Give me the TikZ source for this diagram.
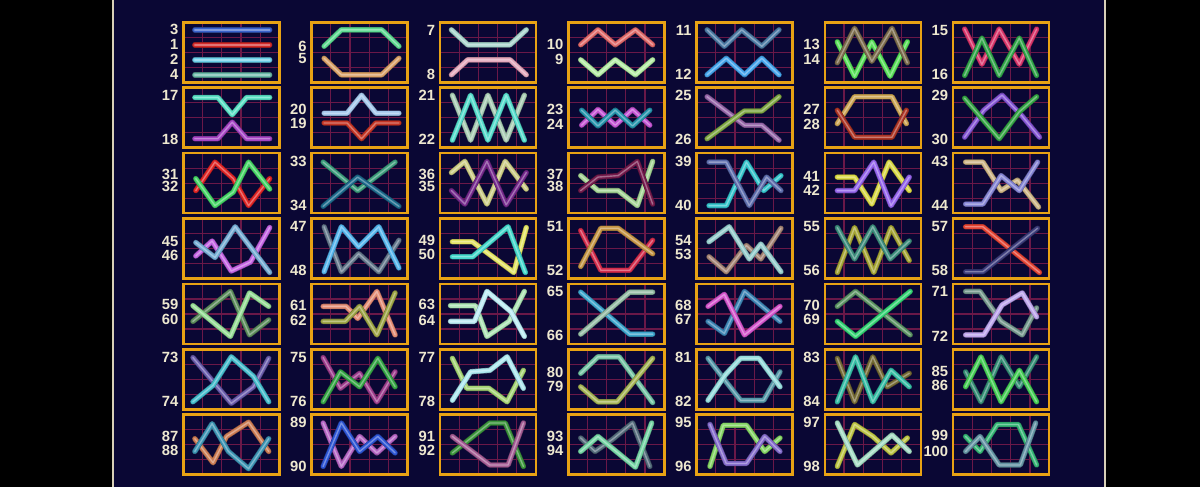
\documentclass[tikz,border=0pt]{standalone}
\usepackage{fontspec}
\newfontfamily\labfont{Liberation Sans}
\definecolor{navy}{HTML}{0A0734}
\definecolor{edgec}{HTML}{D8D0B8}
\definecolor{gridc}{HTML}{6A1848}
\definecolor{boxc}{HTML}{E8A214}
\definecolor{labc}{HTML}{EEE8D0}
\tikzset{
 tubeA/.style={line width=2.7pt,line cap=round,line join=round},
 tubeB/.style={line width=2.1pt,line cap=round,line join=round},
 tubeC/.style={line width=0.7pt,line cap=round,line join=round},
 gridline/.style={draw=gridc,line width=0.6pt},
 boxline/.style={draw=boxc,line width=1.3pt},
 lab/.style={anchor=east,inner sep=0pt,text=labc,font=\labfont\bfseries\fontsize{7.4}{8}\selectfont}
}
\newcommand\PL[2]{\definecolor{tc}{HTML}{#1}%
 \draw[tubeA,draw=tc!70!black] #2;
 \draw[tubeB,draw=tc] #2;
 \draw[tubeC,draw=tc!65!white] #2;}
\newcommand\Panel[3]{%
 \begin{scope}[shift={({183.3+128.3*#1},{22.3+65.4*#2})}]
  \foreach \k in {1,2,3,4} \draw[gridline] ({19.2*\k},0) -- ({19.2*\k},60);
  \foreach \k in {1,2,3} \draw[gridline] (0,{15*\k}) -- (96,{15*\k});
  \begin{scope}[shift={(-9.6,-7.5)},x=9.6pt,y=-7.5pt]
   #3
  \end{scope}
  \draw[boxline] (0,0) rectangle (96,60);
 \end{scope}}
\newcommand\Lab[4]{\node[lab] (L#4) at ({183.3+128.3*#1-4.5},{22.3+65.4*#2+#3}) {#4};}
\begin{document}
\begin{tikzpicture}[x=0.5pt,y=-0.5pt]
\useasboundingbox (0,0) rectangle (1200,487);
\fill[black] (0,0) rectangle (1200,487);
\fill[navy] (113,0) rectangle (1105,487);
\draw[edgec,line width=1.1pt] (113,0) -- (113,487);
\draw[edgec,line width=1.1pt] (1105,0) -- (1105,487);
% ---------- row 0
\Panel{0}{0}{
\PL{3A62CC}{(1.1,1)--(5,1)}
\PL{D42A2A}{(1.1,2)--(5,2)}
\PL{6CCFEA}{(1.1,3)--(5,3)}
\PL{6AB8A8}{(1.1,4)--(5,4)}}
\Lab{0}{0}{7}{3}\Lab{0}{0}{22}{1}\Lab{0}{0}{37}{2}\Lab{0}{0}{52}{4}
\Panel{1}{0}{
\PL{5CD890}{(1.15,2.1)--(2.05,1)--(4.15,1)--(5.05,2.1)}
\PL{D8A066}{(1.15,2.9)--(2.05,4)--(4.15,4)--(5.05,2.9)}}
\Lab{1}{0}{24}{6}\Lab{1}{0}{36}{5}
\Panel{2}{0}{
\PL{A8D4CC}{(1.1,1)--(1.95,2)--(4.15,2)--(5,1)}
\PL{E4A8BC}{(1.1,4)--(1.95,3)--(4.15,3)--(5,4)}}
\Lab{2}{0}{8}{7}\Lab{2}{0}{52}{8}
\Panel{3}{0}{
\PL{E06A6A}{(1.15,2)--(2.05,1)--(2.95,2)--(4,1)--(4.9,2)}
\PL{B4ECA4}{(1.15,3)--(2.05,4)--(2.95,3)--(4,4)--(4.9,3)}}
\Lab{3}{0}{22}{10}\Lab{3}{0}{37}{9}
\Panel{4}{0}{
\PL{4C7AA4}{(1.05,1)--(1.95,2.1)--(2.85,1)--(3.9,2.1)--(4.8,1)}
\PL{44A4EC}{(1.05,4)--(2.05,2.9)--(3,4)--(3.9,2.9)--(4.8,4)}}
\Lab{4}{0}{8}{11}\Lab{4}{0}{52}{12}
\Panel{5}{0}{
\PL{58E058}{(1.15,1.8)--(2.05,4.1)--(2.95,1.8)--(3.9,4.1)--(4.8,1.8)}
\PL{7C6C4C}{(1.15,3.2)--(2.05,0.9)--(2.95,3.1)--(4,0.9)--(4.8,3.2)}}
\Lab{5}{0}{22}{13}\Lab{5}{0}{37}{14}
\Panel{6}{0}{
\PL{D8346A}{(1.1,0.95)--(2,3.3)--(2.9,0.95)--(3.95,3.3)--(4.85,0.95)}
\PL{30A448}{(1.1,4.05)--(2,1.55)--(2.9,4.05)--(3.95,1.55)--(4.85,4.05)}}
\Lab{6}{0}{8}{15}\Lab{6}{0}{52}{16}
% ---------- row 1
\Panel{0}{1}{
\PL{58E0C4}{(1.1,1.15)--(2.3,1.15)--(3.05,2.3)--(3.8,1.15)--(5,1.15)}
\PL{A444C4}{(1.1,3.9)--(2.3,3.9)--(3.05,2.8)--(3.8,3.9)--(5,3.9)}}
\Lab{0}{1}{8}{17}\Lab{0}{1}{52}{18}
\Panel{1}{1}{
\PL{A4C8EC}{(1.15,2.2)--(2.35,2.2)--(3.1,1)--(3.85,2.2)--(5.05,2.2)}
\PL{C43424}{(1.15,2.85)--(2.35,2.85)--(3.1,3.9)--(3.85,2.85)--(5.05,2.85)}}
\Lab{1}{1}{22}{20}\Lab{1}{1}{36}{19}
\Panel{2}{1}{
\PL{A8CCB4}{(1.15,1)--(2.1,4)--(3,1)--(3.95,4)--(4.9,1)}
\PL{54DCCC}{(1.15,4)--(2.1,1)--(3,4)--(3.95,1)--(4.9,4)}}
\Lab{2}{1}{8}{21}\Lab{2}{1}{52}{22}
\Panel{3}{1}{
\PL{C454D4}{(1.2,3)--(2.05,1.95)--(2.95,3)--(3.85,1.95)--(4.75,3)}
\PL{2494AC}{(1.2,2)--(2.05,3.05)--(2.95,2)--(3.85,3.05)--(4.75,2)}}
\Lab{3}{1}{22}{23}\Lab{3}{1}{37}{24}
\Panel{4}{1}{
\PL{9464A8}{(1.05,1.1)--(3,3)--(3.9,3)--(4.8,4)}
\PL{80A844}{(1.05,3.9)--(3,2.05)--(3.9,2.05)--(4.8,1.1)}}
\Lab{4}{1}{8}{25}\Lab{4}{1}{52}{26}
\Panel{5}{1}{
\PL{CCA454}{(1.15,2.9)--(2.05,1.1)--(4,1.1)--(4.75,2.9)}
\PL{AC3424}{(1.15,2)--(2.05,3.8)--(4,3.8)--(4.75,2)}}
\Lab{5}{1}{22}{27}\Lab{5}{1}{37}{28}
\Panel{6}{1}{
\PL{8454D4}{(1.1,3.8)--(2.1,2)--(3.05,1)--(4.1,2.4)--(5,3.8)}
\PL{34A444}{(1.1,1.2)--(2.9,3.9)--(3.95,2.1)--(4.85,1.1)}}
\Lab{6}{1}{8}{29}\Lab{6}{1}{52}{30}
% ---------- row 2
\Panel{0}{2}{
\PL{E02424}{(1.15,3)--(2.15,1.1)--(3.1,2.2)--(3.9,4)--(5,2.2)}
\PL{44D464}{(1.15,2.2)--(2.15,4)--(3.1,3.1)--(3.9,1.1)--(5,2.9)}}
\Lab{0}{2}{21}{31}\Lab{0}{2}{33}{32}
\Panel{1}{2}{
\PL{3C9C7C}{(1.1,1.1)--(2.9,3)--(4.85,1.1)}
\PL{1C6A8C}{(1.1,4.05)--(2.9,2.1)--(5.05,4.05)}}
\Lab{1}{2}{8}{33}\Lab{1}{2}{52}{34}
\Panel{2}{2}{
\PL{CCCC84}{(1.1,1.8)--(1.8,1.05)--(2.95,3.9)--(3.9,1.05)--(5,2.9)}
\PL{74288C}{(1.1,3)--(1.8,3.9)--(2.95,1.05)--(3.95,3.95)--(5,1.8)}}
\Lab{2}{2}{21}{36}\Lab{2}{2}{33}{35}
\Panel{3}{2}{
\PL{A4D494}{(1.15,2)--(2.05,3)--(3.1,3)--(4.1,4)--(4.9,1.05)}
\PL{741A4C}{(1.15,3)--(2.05,2.1)--(3.1,2)--(4.1,1.05)--(4.9,3.9)}}
\Lab{3}{2}{21}{37}\Lab{3}{2}{33}{38}
\Panel{4}{2}{
\PL{34C4CC}{(1.15,4)--(2.05,4)--(3.1,1.1)--(4,3)--(4.9,2)}
\PL{5C6CAC}{(1.15,1.1)--(2.05,1.1)--(3.25,4)--(4.15,2.1)--(4.9,3)}}
\Lab{4}{2}{8}{39}\Lab{4}{2}{52}{40}
\Panel{5}{2}{
\PL{D8D844}{(1.15,2.1)--(2.05,2.1)--(2.95,3.9)--(3.85,1.1)--(4.9,3)}
\PL{9464EC}{(1.15,3)--(2.05,3)--(3.05,1.1)--(3.95,4)--(4.9,2.1)}}
\Lab{5}{2}{23}{41}\Lab{5}{2}{37}{42}
\Panel{6}{2}{
\PL{CCB484}{(1.15,1.1)--(2.05,1.1)--(3,3)--(3.85,2.3)--(4.95,4.1)}
\PL{8484D4}{(1.15,3.9)--(2.05,3.9)--(3,2)--(3.95,3)--(4.9,1.1)}}
\Lab{6}{2}{8}{43}\Lab{6}{2}{52}{44}
% ---------- row 3
\Panel{0}{3}{
\PL{C464E4}{(1.15,3)--(2,2)--(3,4)--(4,3.4)--(5,1.1)}
\PL{74ACD4}{(1.15,2.1)--(2.15,3.1)--(3.2,1.05)--(5,4.1)}}
\Lab{0}{3}{23}{45}\Lab{0}{3}{37}{46}
\Panel{1}{3}{
\PL{64788C}{(1.15,1.05)--(2.05,4.05)--(2.95,2.85)--(4,4.05)--(5.05,1.95)}
\PL{54B4EC}{(1.15,4.05)--(2.05,1.05)--(2.95,2.4)--(4,1.05)--(5.05,3.8)}}
\Lab{1}{3}{8}{47}\Lab{1}{3}{52}{48}
\Panel{2}{3}{
\PL{E4E464}{(1.15,2.05)--(2.2,2.05)--(4.35,4.1)--(5,1.1)}
\PL{44D8CC}{(1.15,3.05)--(2.2,3.05)--(4.05,1.05)--(4.95,4.1)}}
\Lab{2}{3}{22}{49}\Lab{2}{3}{36}{50}
\Panel{3}{3}{
\PL{D42C4C}{(1.15,1.3)--(2.2,3.95)--(3.7,3.95)--(4.9,1.95)}
\PL{C49444}{(1.15,3.7)--(2.2,1.15)--(3.1,1.15)--(4.9,2.85)}}
\Lab{3}{3}{8}{51}\Lab{3}{3}{52}{52}
\Panel{4}{3}{
\PL{A48474}{(1.15,3.05)--(2.05,4.05)--(3.1,2.3)--(3.85,3.2)--(4.9,1.15)}
\PL{94CCCC}{(1.15,2.05)--(2.2,1.05)--(3.25,3.2)--(3.85,2.2)--(4.9,4.05)}}
\Lab{4}{3}{22}{54}\Lab{4}{3}{36}{53}
\Panel{5}{3}{
\PL{A4A434}{(1.15,4.1)--(2.05,1.1)--(3.05,4.1)--(3.95,1.1)--(4.9,3.3)}
\PL{3C8C7C}{(1.15,1.1)--(2.05,3.2)--(3,1.05)--(3.9,3.2)--(4.9,2)}}
\Lab{5}{3}{8}{55}\Lab{5}{3}{52}{56}
\Panel{6}{3}{
\PL{E44434}{(1.15,1.05)--(2.05,1.05)--(5,4.1)}
\PL{3C3C7C}{(1.15,4.05)--(2.05,4.05)--(4.9,1.15)}}
\Lab{6}{3}{8}{57}\Lab{6}{3}{52}{58}
% ---------- row 4
\Panel{0}{4}{
\PL{5C8C5C}{(1,3)--(2.95,1)--(3.95,3.9)--(4.95,2.9)}
\PL{94DC94}{(1,1.95)--(2.95,4)--(3.95,1.1)--(4.95,2)}}
\Lab{0}{4}{21}{59}\Lab{0}{4}{36}{60}
\Panel{1}{4}{
\PL{E48C74}{(1.1,2)--(2.3,2)--(2.9,2.8)--(3.9,1)--(4.85,3.9)}
\PL{9CA444}{(1.1,3)--(2.25,3)--(3,2)--(3.9,3.9)--(4.85,1.1)}}
\Lab{1}{4}{22}{61}\Lab{1}{4}{37}{62}
\Panel{2}{4}{
\PL{ACE4B4}{(1.05,1.95)--(2.35,1.95)--(2.95,4)--(4.1,3)--(4.9,1)}
\PL{BCECF4}{(1.05,3)--(2.3,3)--(2.95,1)--(4.2,2.35)--(4.9,4)}}
\Lab{2}{4}{21}{63}\Lab{2}{4}{37}{64}
\Panel{3}{4}{
\PL{3CA4CC}{(1.15,1.05)--(3.7,3.85)--(4.9,3.85)}
\PL{94BCA4}{(1.15,3.85)--(3.7,1.05)--(4.9,1.05)}}
\Lab{3}{4}{8}{65}\Lab{3}{4}{52}{66}
\Panel{4}{4}{
\PL{3C84B4}{(1.1,3)--(1.95,3.8)--(3,1)--(4.85,3)}
\PL{D454CC}{(1.1,2)--(1.95,1.2)--(3,3.9)--(4.85,2)}}
\Lab{4}{4}{22}{68}\Lab{4}{4}{36}{67}
\Panel{5}{4}{
\PL{5C9464}{(1.15,2)--(2.1,1)--(4.95,3.9)}
\PL{34D474}{(1.15,3)--(2.1,4)--(4.95,1)}}
\Lab{5}{4}{22}{70}\Lab{5}{4}{36}{69}
\Panel{6}{4}{
\PL{74988C}{(1.15,1)--(1.9,1)--(3,3)--(4.1,3.9)--(4.85,2.1)}
\PL{BCA4EC}{(1.15,3.9)--(2.1,3.9)--(3.05,1.9)--(4.1,1.1)--(4.85,2.7)}}
\Lab{6}{4}{8}{71}\Lab{6}{4}{52}{72}
% ---------- row 5
\Panel{0}{5}{
\PL{6A5CAC}{(1,1.05)--(3,4.1)--(4.15,3)--(4.95,1.1)}
\PL{44BCCC}{(1,4)--(2.05,2.9)--(3,1)--(4.15,2.3)--(4.95,4)}}
\Lab{0}{5}{8}{73}\Lab{0}{5}{52}{74}
\Panel{1}{5}{
\PL{9C3C8C}{(1.1,1.05)--(2,3.1)--(3,2.1)--(3.9,4)--(4.85,2)}
\PL{34A444}{(1.1,4)--(2,2)--(3,3)--(3.95,1.1)--(4.85,3)}}
\Lab{1}{5}{8}{75}\Lab{1}{5}{52}{76}
\Panel{2}{5}{
\PL{A4D474}{(1.15,1.1)--(1.9,3.1)--(3.05,3.1)--(4,4)--(4.85,1.9)}
\PL{ACE8F0}{(1.15,3.9)--(2.1,2)--(3.1,1.9)--(4,1)--(4.85,3.1)}}
\Lab{2}{5}{8}{77}\Lab{2}{5}{52}{78}
\Panel{3}{5}{
\PL{74C4A4}{(1.15,2.1)--(2.05,1)--(3.15,1)--(4.9,4.05)}
\PL{A4B454}{(1.15,3)--(2.05,4)--(3.05,4)--(4.9,1.1)}}
\Lab{3}{5}{23}{80}\Lab{3}{5}{37}{79}
\Panel{4}{5}{
\PL{5498A8}{(1.1,1.1)--(2,2.6)--(2.8,3.9)--(4,3.9)--(4.85,2)}
\PL{94DCDC}{(1.1,3.9)--(2,2.2)--(2.8,1.1)--(3.75,1.1)--(4.85,3)}}
\Lab{4}{5}{8}{81}\Lab{4}{5}{52}{82}
\Panel{5}{5}{
\PL{746A34}{(1.15,1.1)--(2.05,4)--(3,1)--(3.75,3)--(4.9,2.1)}
\PL{34BCA4}{(1.15,4)--(2.1,1)--(3,4)--(3.95,1.9)--(4.9,3)}}
\Lab{5}{5}{8}{83}\Lab{5}{5}{52}{84}
\Panel{6}{5}{
\PL{348C74}{(1.15,2)--(1.95,4)--(3,1)--(3.95,3)--(4.85,1)}
\PL{44CC54}{(1.15,3)--(1.95,1)--(3,4)--(3.95,1.9)--(4.85,4)}}
\Lab{6}{5}{22}{85}\Lab{6}{5}{36}{86}
% ---------- row 6
\Panel{0}{6}{
\PL{CC7C54}{(1.1,2.1)--(2.05,3.7)--(2.75,1.95)--(3.9,1)--(4.95,2.95)}
\PL{3C94B4}{(1.1,2.95)--(2,1.1)--(2.85,2.95)--(3.9,4.1)--(4.95,2.1)}}
\Lab{0}{6}{22}{87}\Lab{0}{6}{36}{88}
\Panel{1}{6}{
\PL{B464C4}{(1.1,1.05)--(2.05,3.95)--(3,1.95)--(3.9,3.05)--(4.85,1.95)}
\PL{2C54D4}{(1.1,3.95)--(2.05,1.05)--(3,2.95)--(3.95,1.95)--(4.85,3.05)}}
\Lab{1}{6}{8}{89}\Lab{1}{6}{52}{90}
\Panel{2}{6}{
\PL{3C943C}{(1.15,3.05)--(3.1,1.05)--(3.9,1.05)--(4.85,3.95)}
\PL{A45C94}{(1.15,1.95)--(3.1,3.85)--(4.05,3.85)--(4.85,1.05)}}
\Lab{2}{6}{22}{91}\Lab{2}{6}{36}{92}
\Panel{3}{6}{
\PL{546C7C}{(1.15,2.05)--(1.9,2.95)--(2.8,2.15)--(3.85,1.05)--(4.75,3.95)}
\PL{74D4A4}{(1.15,2.95)--(2.05,1.95)--(4,4)--(4.85,1.05)}}
\Lab{3}{6}{22}{93}\Lab{3}{6}{36}{94}
\Panel{4}{6}{
\PL{84D464}{(1.2,3.95)--(1.9,1.2)--(3.1,1.2)--(4.05,2.95)--(4.85,2.05)}
\PL{846CCC}{(1.2,1.15)--(2.05,3.75)--(3.1,3.75)--(4.05,1.95)--(4.85,2.95)}}
\Lab{4}{6}{8}{95}\Lab{4}{6}{52}{96}
\Panel{5}{6}{
\PL{BCC444}{(1.15,3.95)--(2.05,1.15)--(3,1.95)--(3.95,3.05)--(4.8,2.05)}
\PL{A4DCC4}{(1.15,1.05)--(2.2,3.85)--(4,1.85)--(4.9,2.95)}}
\Lab{5}{6}{8}{97}\Lab{5}{6}{52}{98}
\Panel{6}{6}{
\PL{34B474}{(1.15,1.95)--(1.9,2.95)--(2.8,1.15)--(3.9,1.15)--(4.85,3.85)}
\PL{6494A4}{(1.15,2.95)--(1.9,1.95)--(2.9,3.85)--(4,3.85)--(4.8,1.05)}}
\Lab{6}{6}{21}{99}\Lab{6}{6}{37}{100}
\end{tikzpicture}
\end{document}
